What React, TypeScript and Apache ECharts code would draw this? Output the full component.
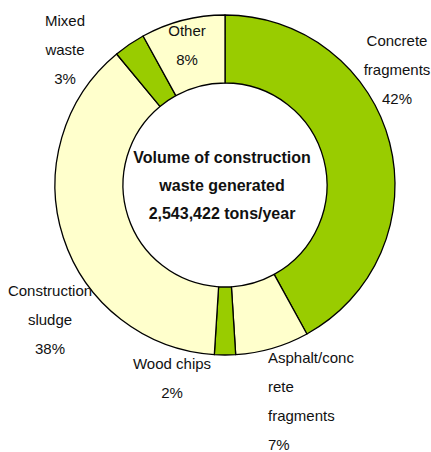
import React, { useEffect, useRef } from "react";
import * as echarts from "echarts";

const categories = [
  "Concrete\nfragments",
  "Asphalt/conc\nrete\nfragments",
  "Wood chips",
  "Construction\nsludge",
  "Mixed\nwaste",
  "Other",
];
const values = [42, 7, 2, 38, 3, 8];
const colors = ["#99CC00", "#FFFFCC", "#99CC00", "#FFFFCC", "#99CC00", "#FFFFCC"];
const centerLines = [
  "Volume of construction",
  "waste generated",
  "2,543,422 tons/year",
];

// label anchor positions (x, y of top line center / left), alignment
const labelPos: { x: number; y: number; align: "center" | "left" }[] = [
  { x: 397, y: 26, align: "center" },
  { x: 268, y: 343, align: "left" },
  { x: 172, y: 349, align: "center" },
  { x: 50, y: 276, align: "center" },
  { x: 65, y: 6, align: "center" },
  { x: 187, y: 16, align: "center" },
];

export default function App() {
  const ref = useRef<HTMLDivElement>(null);
  useEffect(() => {
    if (!ref.current) return;
    const chart = echarts.init(ref.current, undefined, { renderer: "svg" });
    chart.setOption({
      animation: false,
      backgroundColor: "#ffffff",
      series: [
        {
          type: "pie",
          center: [225, 185],
          radius: [102, 170],
          startAngle: 90,
          clockwise: true,
          avoidLabelOverlap: false,
          data: categories.map((c, i) => ({
            name: c,
            value: values[i],
            itemStyle: { color: colors[i] },
          })),
          itemStyle: { borderColor: "#000", borderWidth: 1.3 },
          label: {
            show: true,
            formatter: "{b}\n{c}%",
            fontFamily: "Liberation Sans, Arial, sans-serif",
            fontSize: 15,
            lineHeight: 29,
            color: "#111",
          },
          labelLine: { show: false },
          labelLayout: (p: any) => {
            const lp = labelPos[p.dataIndex];
            return {
              x: lp.x,
              y: lp.y,
              align: lp.align,
              verticalAlign: "top",
            };
          },
          emphasis: { disabled: true },
        },
      ],
      graphic: [
        {
          type: "text",
          x: 222,
          y: 185,
          style: {
            text: centerLines.join("\n"),
            fontFamily: "Liberation Sans, Arial, sans-serif",
            fontWeight: "bold",
            fontSize: 16,
            lineHeight: 28,
            align: "center",
            verticalAlign: "middle",
            fill: "#111",
          },
        },
      ],
    });
    return () => chart.dispose();
  }, []);
  return (
    <div
      ref={ref}
      style={{ position: "fixed", top: 0, left: 0, width: 431, height: 452 }}
    />
  );
}
